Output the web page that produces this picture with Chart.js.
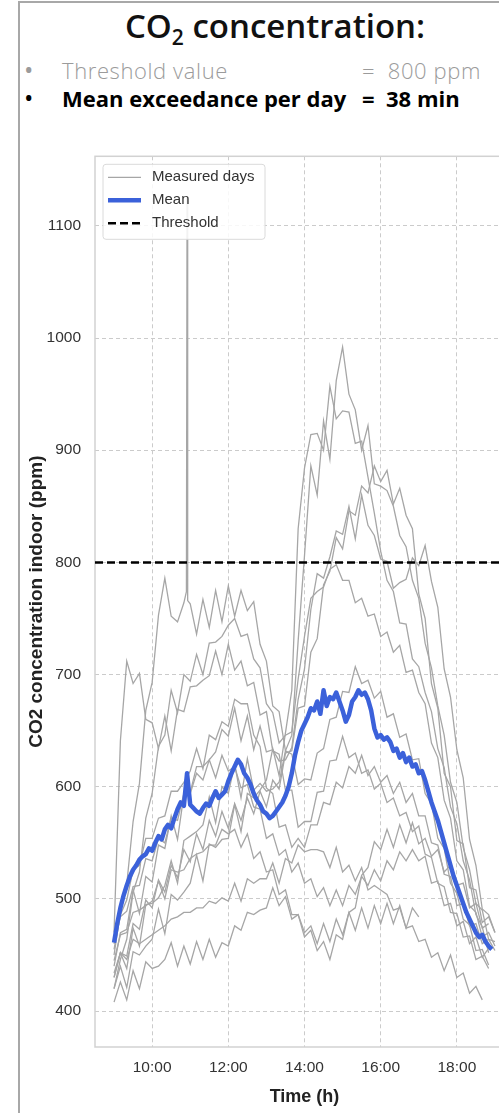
<!DOCTYPE html>
<html>
<head>
<meta charset="utf-8">
<title>CO2 concentration</title>
<script src="https://cdn.jsdelivr.net/npm/chart.js@4.4.0/dist/chart.umd.min.js"></script>
<style>
  html, body { margin: 0; padding: 0; background: #fff; }
  body { width: 499px; height: 1113px; overflow: hidden; position: relative; font-family: 'Open Sans', sans-serif; }
  .frame { position: absolute; left: 18px; top: 1px; width: 700px; height: 1300px; border-left: 2px solid #a8a8a8; border-top: 2px solid #a8a8a8; }
  .title { position: absolute; left: 20px; width: 510px; top: 3px; text-align: center; font-size: 33px; font-weight: 600; color: #111; white-space: nowrap; }
  .title sub { font-size: 21px; vertical-align: -7px; line-height: 0; }
  .row { position: absolute; left: 0; width: 499px; height: 28px; font-size: 22px; line-height: 28px; white-space: nowrap; }
  .row span { position: absolute; top: 0; }
  .muted { color: #9b9b9b; font-weight: 300; letter-spacing: 0.6px; }
  .strong { color: #000; font-weight: 700; }
  .dot { font-weight: 400; font-size: 25px; top: -1px !important; }
  #plot { position: absolute; left: 0; top: 133px; }
</style>
</head>
<body>
<div class="frame"></div>
<div class="title">CO<sub>2</sub> concentration:</div>
<div class="row muted" style="top:56px"><span class="dot" style="left:24px">•</span><span style="left:62px">Threshold value</span><span style="left:362px">=&nbsp;&nbsp;800 ppm</span></div>
<div class="row strong" style="top:84px"><span class="dot" style="left:24px;color:#000">•</span><span style="left:62px">Mean exceedance per day</span><span style="left:362px">=&nbsp;&nbsp;38 min</span></div>
<canvas id="plot" width="530" height="980"></canvas>
<script>
// readings every 10 minutes from 9:00 to 19:00, one array per measured day
var DAY_START = 9, DAY_STEP_MIN = 10;
var DAYS = [
  [430,452,438,474,458,495, 496,501,512,534,514,552, 556,560,566,591,568,600, 594,620,590,625,597,603,
   596,598,604,632,646,730, 806,886,860,926,892,962, 992,950,936,900,922,870, 868,864,850,824,814,784,
   768,728,706,672,646,604, 586,546,526,496,490,464, 462],
  [420,440,421,453,450,458, 464,491,469,504,499,506, 514,539,516,549,546,553, 554,584,560,594,590,597,
   606,634,610,648,686,830, 884,914,915,900,957,928, 935,934,906,908,876,844, 810,784,774,746,745,714,
   707,684,667,634,617,582, 567,534,517,486,475,452, null],
  [440,470,473,508,487,520, 515,548,545,574,553,593, 595,618,618,624,631,651, 645,670,641,663,633,654,
   631,633,623,624,635,678, 705,758,790,786,805,828, 825,850,821,860,833,824, 803,801,777,782,785,804,
   797,815,783,760,705,680, 633,608,553,530,491,486, 470],
  [450,488,513,569,603,668, 693,753,786,752,747,764, 763,736,767,742,775,747, 779,752,775,757,765,727,
   712,672,667,632,629,602, 607,606,630,634,660,662, 685,684,707,692,695,679, 685,662,665,644,647,624,
   625,594,585,554,545,514, 505,482,477,454,455,441, null],
  [470,641,712,692,701,660, 657,634,663,632,669,667, 689,690,695,699,721,700, 727,704,712,690,693,664,
   667,632,629,597,597,564, 569,569,595,596,623,624, 645,626,630,612,615,598, 603,586,590,574,577,560,
   565,540,537,514,511,488, 487,466,467,446,449,438, null],
  [408,426,410,436,420,444, 438,440,446,461,440,458, 442,462,446,464,448,461, 458,476,472,488,486,490,
   492,510,494,502,482,486, 470,476,460,478,462,482, 468,488,472,492,474,494, 478,496,478,494,474,492,
   484,null,null,null,null,null, null,null,null,null,null,null, null],
  [434,452,446,464,460,464, 468,472,476,482,484,488, 488,492,492,498,496,501, 498,514,498,518,514,518,
   518,532,514,536,532,548, 542,544,544,542,528,546, 524,530,516,528,508,512, 508,504,490,492,474,476,
   462,464,448,452,436,450, 430,434,416,422,410,null, null],
  [445,468,470,488,490,494, 498,516,500,526,524,526, 536,540,542,548,548,562, 558,562,546,558,536,542,
   524,526,504,508,486,486, 466,472,454,462,446,468, 464,488,492,521,528,551, 544,562,546,566,550,568,
   549,554,538,544,524,530, 512,514,492,496,474,478, null],
  [455,486,499,526,530,554, 554,572,574,596,596,604, 614,634,616,646,642,658, 654,678,674,674,646,636,
   599,594,564,566,546,554, 546,566,566,586,584,604, 599,618,612,628,610,618, 604,610,594,604,586,594,
   574,574,550,548,522,520, 494,496,476,478,460,464, 454],
  [420,446,464,506,524,572, 594,636,646,686,666,700, 694,718,700,728,729,734, 744,750,734,736,714,706,
   674,666,639,646,649,696, 734,768,774,778,794,798, 784,784,764,768,752,754, 734,738,720,726,702,704,
   684,674,639,626,588,572, 534,526,494,488,466,470, 458],
  [430,452,449,478,473,499, 492,517,506,530,519,544, 533,558,544,570,556,578, 563,585,570,590,576,596,
   582,606,598,630,632,670, 672,720,732,780,792,822, 812,846,842,868,862,886, 872,882,852,866,842,830,
   772,750,692,670,612,600, 552,549,510,508,479,484, 470],
  [460,484,489,511,512,536, 534,554,550,572,570,594, 594,612,606,624,608,628, 614,618,599,602,582,580,
   554,558,539,544,524,532, 514,518,502,510,494,508, 494,512,504,520,512,526, 516,534,526,542,534,544,
   534,538,514,516,494,496, 476,480,460,466,448,456, null]
];
// short sensor spike on the fourth day just before 11:00
var SPIKE_DAY = 3;
var SPIKE_HOURS = [10.9, 10.917, 10.933];
var SPIKE_CO2 = [774, 1126, 766];

// mean over all days, every 5 minutes from 9:00 to 18:55
var MEAN_STEP_MIN = 5;
var MEAN_CO2 = [
  461,478,492,503,512,520,526,530,535,538,540,545,
  543,550,556,553,562,566,563,572,580,586,583,612,
  584,581,578,576,581,585,583,590,596,590,593,596,
  605,612,618,624,620,612,608,602,594,588,584,578,
  576,572,574,578,582,586,592,600,612,628,640,650,
  656,662,670,668,676,665,686,672,680,678,684,676,
  668,658,664,676,680,686,682,684,678,668,652,644,
  646,642,644,640,632,634,626,630,622,626,618,620,
  612,614,606,596,586,578,570,560,550,540,530,520,
  512,504,496,488,482,476,470,466,468,462,458,455
];
var THRESHOLD = 800;
var HOUR_TICKS = [10, 12, 14, 16, 18];
var CO2_TICKS = [400, 500, 600, 700, 800, 900, 1000, 1100];
var X_RANGE = [8.5, 19.5];
var Y_RANGE = [368, 1162];

function toPoints(values, step) {
  var pts = [];
  values.forEach(function (v, i) {
    if (v !== null) pts.push({ x: DAY_START + i * step / 60, y: v });
  });
  return pts;
}

var datasets = [];
datasets.push({
  label: 'Threshold',
  data: [{ x: X_RANGE[0], y: THRESHOLD }, { x: X_RANGE[1], y: THRESHOLD }],
  borderColor: '#000', borderWidth: 2.5, borderDash: [8, 4], order: 0
});
datasets.push({
  label: 'Mean',
  data: toPoints(MEAN_CO2, MEAN_STEP_MIN),
  borderColor: '#3b61da', borderWidth: 4.5, borderJoinStyle: 'round', order: 1
});
DAYS.forEach(function (day, k) {
  var pts = toPoints(day, DAY_STEP_MIN);
  if (k === SPIKE_DAY) {
    SPIKE_HOURS.forEach(function (h, j) { pts.push({ x: h, y: SPIKE_CO2[j] }); });
    pts.sort(function (a, b) { return a.x - b.x; });
  }
  datasets.push({
    label: 'Measured days',
    data: pts,
    borderColor: '#a6a6a6', borderWidth: 1.3, order: 2
  });
});

// light frame round the plot area
var plotFrame = {
  id: 'plotFrame',
  beforeDatasetsDraw: function (chart) {
    var a = chart.chartArea, c = chart.ctx;
    c.save();
    c.strokeStyle = '#d2d2d2';
    c.lineWidth = 1.5;
    c.strokeRect(a.left, a.top, a.right - a.left, a.bottom - a.top);
    c.restore();
  }
};

// legend box in the upper left corner of the plot
var legendBox = {
  id: 'legendBox',
  afterDatasetsDraw: function (chart) {
    var a = chart.chartArea, c = chart.ctx;
    var x = a.left + 8, y = a.top + 8, w = 162, h = 75;
    var seen = {}, items = [];
    chart.data.datasets.slice().sort(function (p, q) { return q.order - p.order; }).forEach(function (d) {
      if (!seen[d.label]) { seen[d.label] = true; items.push(d); }
    });
    c.save();
    c.fillStyle = 'rgba(255,255,255,0.85)';
    c.strokeStyle = '#dadada';
    c.lineWidth = 1;
    c.beginPath();
    c.roundRect(x, y, w, h, 3);
    c.fill();
    c.stroke();
    c.font = '15px "Liberation Sans", Arial, sans-serif';
    c.textBaseline = 'middle';
    items.forEach(function (d, i) {
      var ly = y + 13 + i * 23;
      c.strokeStyle = d.borderColor;
      c.lineWidth = d.borderWidth;
      c.setLineDash(d.borderDash || []);
      c.beginPath();
      c.moveTo(x + 5, ly);
      c.lineTo(x + 38, ly);
      c.stroke();
      c.setLineDash([]);
      c.fillStyle = '#333';
      c.fillText(d.label, x + 49, ly);
    });
    c.restore();
  }
};

Chart.defaults.font.family = '"Liberation Sans", Arial, sans-serif';

new Chart(document.getElementById('plot'), {
  type: 'line',
  data: { datasets: datasets },
  options: {
    responsive: false,
    animation: false,
    layout: { padding: { top: 8, right: 16, left: 0, bottom: 0 } },
    elements: { point: { radius: 0 }, line: { tension: 0, fill: false } },
    plugins: { legend: { display: false }, tooltip: { enabled: false } },
    scales: {
      x: {
        type: 'linear',
        min: X_RANGE[0], max: X_RANGE[1],
        afterBuildTicks: function (axis) { axis.ticks = HOUR_TICKS.map(function (v) { return { value: v }; }); },
        afterFit: function (axis) { axis.height = 66; },
        ticks: { padding: 11, color: '#333', font: { size: 15.5 }, callback: function (v) { return v + ':00'; } },
        grid: { drawTicks: false, color: '#cbcbcb', lineWidth: 1 },
        border: { display: false, dash: [4, 3] },
        title: { display: true, text: 'Time (h)', color: '#222', font: { size: 18, weight: 'bold' }, padding: { top: 0, bottom: 5 } }
      },
      y: {
        min: Y_RANGE[0], max: Y_RANGE[1],
        afterBuildTicks: function (axis) { axis.ticks = CO2_TICKS.map(function (v) { return { value: v }; }); },
        afterFit: function (axis) { axis.width = 95; },
        ticks: { padding: 14, color: '#333', font: { size: 15.5 }, callback: function (v) { return String(v); } },
        grid: { drawTicks: false, color: '#cbcbcb', lineWidth: 1 },
        border: { display: false, dash: [4, 3] },
        title: { display: true, text: 'CO2 concentration indoor (ppm)', color: '#222', font: { size: 19, weight: 'bold' }, padding: { top: 25, bottom: 0 } }
      }
    }
  },
  plugins: [plotFrame, legendBox]
});
</script>
</body>
</html>
